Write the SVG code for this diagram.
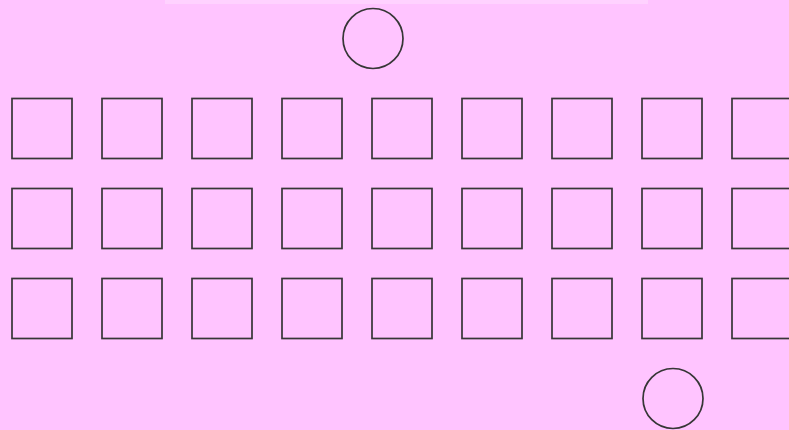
<svg xmlns="http://www.w3.org/2000/svg" width="789" height="430" viewBox="0 0 789 430">
<style>
.s{fill:none;stroke:#363636;stroke-width:1.7}
</style>
<rect x="0" y="0" width="789" height="430" fill="#ffc4ff"/>
<rect x="165" y="0" width="483" height="4" fill="#ffd2ff"/>
<g id="circle-top"><circle class="s" cx="373" cy="38.5" r="30"/></g>
<g id="circle-bottom"><circle class="s" cx="673" cy="398.5" r="30"/></g>
<g id="grid">
<g id="r1">
<rect class="s" x="12" y="98.5" width="60" height="60"/>
<rect class="s" x="102" y="98.5" width="60" height="60"/>
<rect class="s" x="192" y="98.5" width="60" height="60"/>
<rect class="s" x="282" y="98.5" width="60" height="60"/>
<rect class="s" x="372" y="98.5" width="60" height="60"/>
<rect class="s" x="462" y="98.5" width="60" height="60"/>
<rect class="s" x="552" y="98.5" width="60" height="60"/>
<rect class="s" x="642" y="98.5" width="60" height="60"/>
<rect class="s" x="732" y="98.5" width="60" height="60"/>
</g>
<g id="r2">
<rect class="s" x="12" y="188.5" width="60" height="60"/>
<rect class="s" x="102" y="188.5" width="60" height="60"/>
<rect class="s" x="192" y="188.5" width="60" height="60"/>
<rect class="s" x="282" y="188.5" width="60" height="60"/>
<rect class="s" x="372" y="188.5" width="60" height="60"/>
<rect class="s" x="462" y="188.5" width="60" height="60"/>
<rect class="s" x="552" y="188.5" width="60" height="60"/>
<rect class="s" x="642" y="188.5" width="60" height="60"/>
<rect class="s" x="732" y="188.5" width="60" height="60"/>
</g>
<g id="r3">
<rect class="s" x="12" y="278.5" width="60" height="60"/>
<rect class="s" x="102" y="278.5" width="60" height="60"/>
<rect class="s" x="192" y="278.5" width="60" height="60"/>
<rect class="s" x="282" y="278.5" width="60" height="60"/>
<rect class="s" x="372" y="278.5" width="60" height="60"/>
<rect class="s" x="462" y="278.5" width="60" height="60"/>
<rect class="s" x="552" y="278.5" width="60" height="60"/>
<rect class="s" x="642" y="278.5" width="60" height="60"/>
<rect class="s" x="732" y="278.5" width="60" height="60"/>
</g>
</g>
<g id="connectors"></g>
</svg>
